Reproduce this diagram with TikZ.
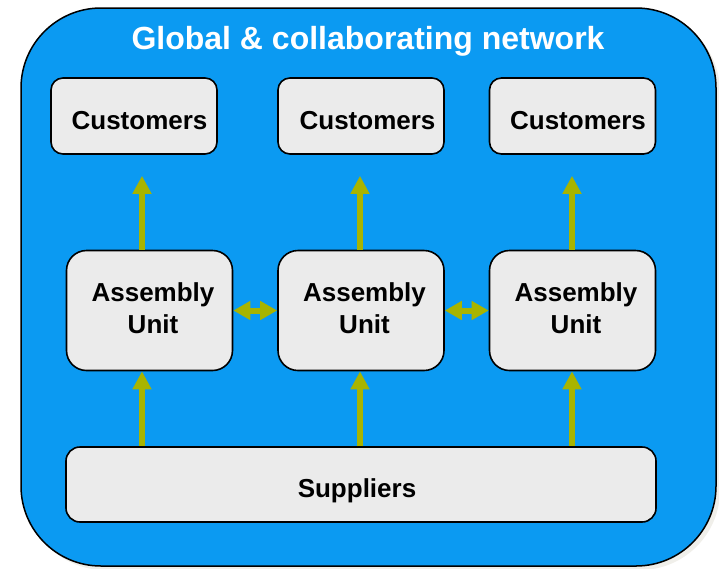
\documentclass[tikz,border=0pt]{standalone}
\usepackage{fontspec}
\setmainfont{Liberation Sans}
\usetikzlibrary{arrows.meta}
\definecolor{netblue}{HTML}{0B9AF2}
\definecolor{boxgray}{HTML}{EBEBEB}
\definecolor{olivearrow}{HTML}{A8B400}
\definecolor{shadowgray}{HTML}{F0EFEA}
\begin{document}
\begin{tikzpicture}[x=1pt,y=-1pt,
  basebox/.style={draw=black,line width=1.6pt,fill=boxgray,inner sep=0pt,
    font=\fontsize{26}{32}\selectfont\bfseries},
  custbox/.style={basebox,rounded corners=12pt,minimum width=166pt,minimum height=76pt,
    text height=26pt,text depth=0pt},
  asmbox/.style={basebox,rounded corners=20pt,minimum width=166pt,minimum height=120pt,
    align=center,text depth=4pt},
  supbox/.style={basebox,rounded corners=14pt,minimum width=590pt,minimum height=75pt,
    text height=25pt,text depth=0pt},
  uparrow/.style={draw=olivearrow,line width=6pt,-{Triangle[width=18pt,length=18pt]}},
  dblarrow/.style={draw=olivearrow,line width=6pt,
    {Triangle[width=18pt,length=17pt]}-{Triangle[width=18pt,length=17pt]}}]
\useasboundingbox (0,0) rectangle (719,568);
% outer network area
\fill[shadowgray,rounded corners=80pt] (25,12) rectangle (720,570);
\draw[fill=netblue,line width=1.5pt,rounded corners=80pt] (21,8) rectangle (716,566);
\node[font=\fontsize{32}{32}\selectfont\bfseries,text=white,anchor=base,inner sep=0pt]
  (title) at (368,49.5) {Global \& collaborating network};
% column positions of the arrows
\coordinate (x1) at (142,0);
\coordinate (x2) at (360,0);
\coordinate (x3) at (572,0);
% customers
\node[custbox] (c1) at (134,116) {\hspace*{11pt}Customers};
\node[custbox] (c2) at (361,116) {\hspace*{13pt}Customers};
\node[custbox] (c3) at (572.5,116) {\hspace*{11pt}Customers};
% assembly units
\node[asmbox] (a1) at (149.5,310.5) {\hspace*{7pt}Assembly\\\hspace*{7pt}Unit};
\node[asmbox] (a2) at (361,310.5) {\hspace*{7pt}Assembly\\\hspace*{7pt}Unit};
\node[asmbox] (a3) at (572.5,310.5) {\hspace*{7pt}Assembly\\\hspace*{7pt}Unit};
% suppliers
\node[supbox] (s) at (361,484.5) {Suppliers\hspace*{8pt}};
% arrows
\draw[uparrow,shorten >=21pt] (a1.north -| x1) -- (c1.south -| x1);
\draw[uparrow,shorten >=21pt] (a2.north -| x2) -- (c2.south -| x2);
\draw[uparrow,shorten >=21pt] (a3.north -| x3) -- (c3.south -| x3);
\draw[uparrow] (s.north -| x1) -- (a1.south -| x1);
\draw[uparrow] (s.north -| x2) -- (a2.south -| x2);
\draw[uparrow] (s.north -| x3) -- (a3.south -| x3);
\draw[dblarrow] (a1.east) -- (a2.west);
\draw[dblarrow] (a2.east) -- (a3.west);
\end{tikzpicture}
\end{document}
